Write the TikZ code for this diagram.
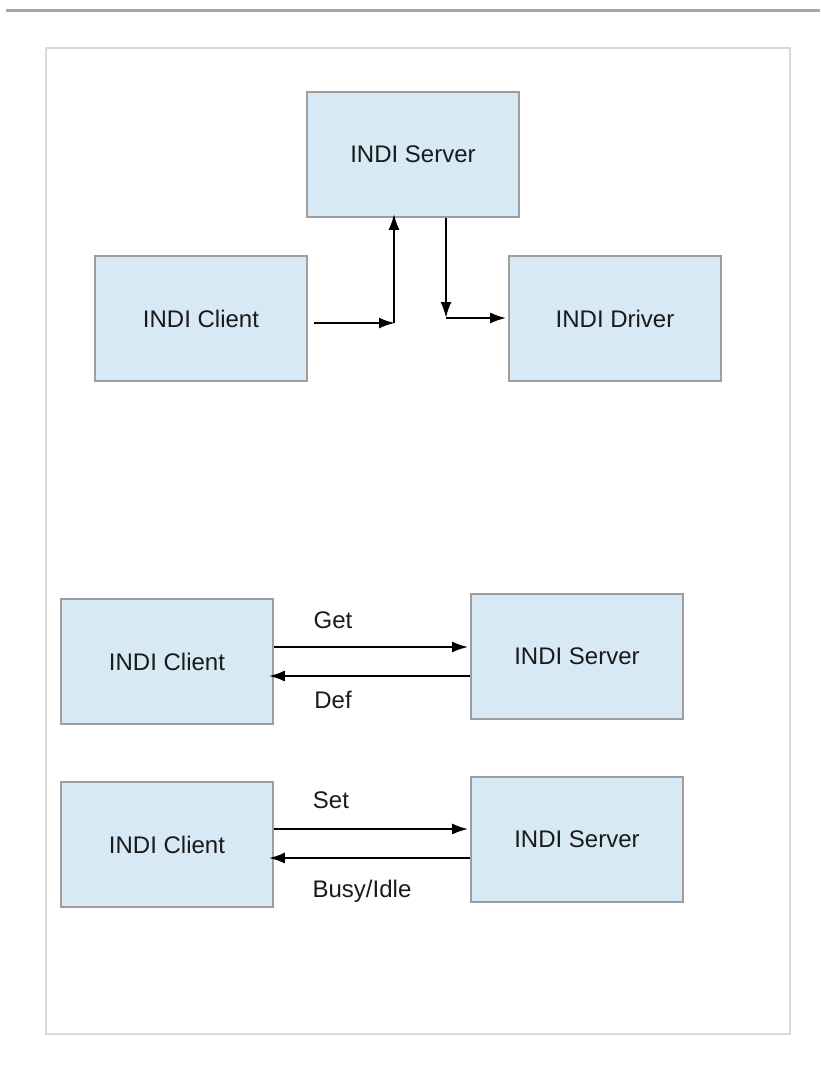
\documentclass[tikz,border=0pt]{standalone}
\usepackage{fontspec}
\setmainfont{Liberation Sans}
\usetikzlibrary{arrows.meta}
\definecolor{boxfill}{HTML}{D7E9F5}
\definecolor{boxline}{HTML}{9E9E9E}
\definecolor{frameline}{HTML}{D9D9D9}
\definecolor{ink}{HTML}{1A1A1A}

\begin{document}
\begin{tikzpicture}[x=1pt, y=-1pt,
    box/.style={rectangle, draw=boxline, fill=boxfill, line width=1.6pt,
        minimum width=212pt, minimum height=125pt, inner sep=0pt,
        text=ink, font=\fontsize{24}{28}\selectfont},
    lbl/.style={text=ink, font=\fontsize{24}{28}\selectfont, inner sep=0pt},
    arr/.style={-{Latex[length=16pt, width=11pt]}, line width=2.2pt}]
        \useasboundingbox (0,0) rectangle (820,1069);
        % page rule and frame
        \draw[line width=3pt, color=black!35] (6,10) -- (820,10);
        \draw[line width=1.8pt, color=frameline] (46,48) rectangle (790,1034);

        % upper part
        \node[box] (server) at (413,154.5) {INDI Server};
        \node[box] (client) at (201,318.5) {INDI Client};
        \node[box] (driver) at (615,318.5) {INDI Driver};
        \coordinate (up) at (394,323);
        \coordinate (down) at (446,318);
        \draw[arr] ([xshift=6pt]client.east |- up) -- ([xshift=1pt]up);
        \draw[arr, shorten >=-4pt] (up) -- (up |- server.south);
        \draw[arr] (server.south -| down) -- (down);
        \draw[arr, shorten >=2pt] (down) -- (driver.west |- down);

        % get / def
        \node[box] (clientget) at (167,661.5) {INDI Client};
        \node[box] (serverget) at (577,656.5) {INDI Server};
        \draw[arr, shorten >=2pt] ([yshift=14.5pt]clientget.east) -- ([yshift=14.5pt]clientget.east -| serverget.west);
        \draw[arr, shorten >=-5pt] ([yshift=-14.5pt]clientget.east -| serverget.west) -- ([yshift=-14.5pt]clientget.east);
        \node[lbl] (get) at (333,620) {Get};
        \node[lbl] (def) at (333,700) {Def};

        % set / busy
        \node[box] (clientset) at (167,844.5) {INDI Client};
        \node[box] (serverset) at (577,839.5) {INDI Server};
        \draw[arr, shorten >=2pt] ([yshift=15.5pt]clientset.east) -- ([yshift=15.5pt]clientset.east -| serverset.west);
        \draw[arr, shorten >=-5pt] ([yshift=-13.5pt]clientset.east -| serverset.west) -- ([yshift=-13.5pt]clientset.east);
        \node[lbl] (set) at (331,800) {Set};
        \node[lbl] (busy) at (362,891) {Busy/Idle};
    \end{tikzpicture}
\end{document}
